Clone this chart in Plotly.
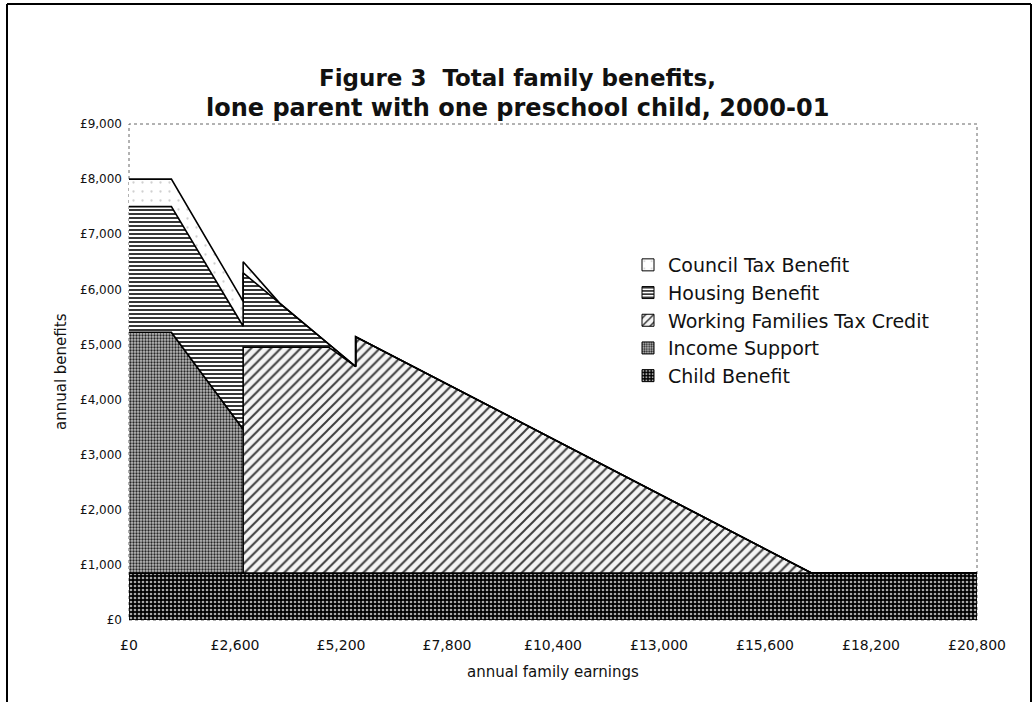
import numpy as np
import plotly.graph_objects as go

# Annual family earnings (GBP) at the points where the benefit schedule changes
earnings = [0, 1040, 2800, 2800, 3700, 4900, 5560, 5560, 16750, 20800]

# Annual amount of each benefit (GBP) at those earnings points
child_benefit = [850, 850, 850, 850, 850, 850, 850, 850, 850, 850]
income_support = [4370, 4370, 2610, 0, 0, 0, 0, 0, 0, 0]
working_families_tax_credit = [0, 0, 0, 4100, 4100, 4100, 3750, 4290, 0, 0]
housing_benefit = [2280, 2280, 1870, 1350, 796, 57, 0, 0, 0, 0]
council_tax_benefit = [500, 500, 450, 200, 0, 0, 0, 0, 0, 0]

series_names = ["Child Benefit", "Income Support", "Working Families Tax Credit",
                "Housing Benefit", "Council Tax Benefit"]
series_values = [child_benefit, income_support, working_families_tax_credit,
                 housing_benefit, council_tax_benefit]

x_tick_values = [0, 2600, 5200, 7800, 10400, 13000, 15600, 18200, 20800]
x_tick_labels = ["£0", "£2,600", "£5,200", "£7,800", "£10,400", "£13,000",
                 "£15,600", "£18,200", "£20,800"]
y_tick_values = [0, 1000, 2000, 3000, 4000, 5000, 6000, 7000, 8000, 9000]
y_tick_labels = ["£0", "£1,000", "£2,000", "£3,000", "£4,000", "£5,000",
                 "£6,000", "£7,000", "£8,000", "£9,000"]

FONT = "DejaVu Sans, Liberation Sans, Arial, sans-serif"
INK = "#111111"

# fill texture for each benefit, bottom of the stack first
textures = [
    dict(color="black",
         pattern=dict(shape=".", bgcolor="black", fgcolor="#a8a8a8",
                      size=4, solidity=0.35, fillmode="replace")),
    dict(color="#9c9c9c",
         pattern=dict(shape=".", bgcolor="#bcbcbc", fgcolor="#262626",
                      size=3, solidity=0.45, fillmode="replace")),
    dict(color="#e0e0e0",
         pattern=dict(shape="/", bgcolor="#f4f4f4", fgcolor="#3c3c3c",
                      size=7, solidity=0.28, fillmode="replace")),
    dict(color="#bdbdbd",
         pattern=dict(shape="-", bgcolor="white", fgcolor="#202020",
                      size=4, solidity=0.45, fillmode="replace")),
    dict(color="white",
         pattern=dict(shape=".", bgcolor="white", fgcolor="#d0d0d0",
                      size=9, solidity=0.05, fillmode="replace")),
]

tops = np.cumsum(np.array(series_values, dtype=float), axis=0)

fig = go.Figure()
for i, (name, top) in enumerate(zip(series_names, tops)):
    fig.add_trace(go.Scatter(
        x=earnings, y=top, name=name, mode="lines", showlegend=False,
        line=dict(color="black", width=1.6),
        fill="tozeroy" if i == 0 else "tonexty",
        fillcolor=textures[i]["color"], fillpattern=textures[i]["pattern"],
        legendgroup=name,
    ))

# square legend keys carrying the same textures
for i, name in enumerate(series_names):
    fig.add_trace(go.Bar(
        x=[None], y=[None], name=name, legendgroup=name, showlegend=True,
        marker=dict(color=textures[i]["color"], pattern=textures[i]["pattern"],
                    line=dict(color="black", width=1)),
    ))

# plot-area geometry in pixels
W, H = 1034, 702
L, R, T, B = 129, 977, 124, 620


def px(xp):
    return (xp - L) / (R - L)


def py(yp):
    return (B - yp) / (B - T)


fig.update_layout(
    width=W, height=H,
    margin=dict(l=L, r=W - R, t=T, b=H - B),
    paper_bgcolor="white", plot_bgcolor="white",
    font=dict(family=FONT, color=INK, size=12),
    showlegend=True,
    legend=dict(
        x=px(628), y=py(246), xanchor="left", yanchor="top",
        traceorder="reversed", font=dict(family=FONT, size=19, color=INK),
        bgcolor="rgba(0,0,0,0)", itemwidth=30, tracegroupgap=0,
    ),
    xaxis=dict(
        type="linear", range=[0, 20800],
        tickvals=x_tick_values, ticktext=x_tick_labels,
        showgrid=False, zeroline=False, showline=False, ticks="",
        ticklabelstandoff=15, tickfont=dict(size=14, color=INK),
    ),
    yaxis=dict(
        type="linear", range=[0, 9000],
        tickvals=y_tick_values, ticktext=y_tick_labels,
        showgrid=False, zeroline=False, showline=False, ticks="",
        ticklabelstandoff=6, tickfont=dict(size=12, color=INK),
    ),
    annotations=[
        dict(text="<b>Figure 3\u00a0\u00a0Total family benefits,</b>",
             xref="paper", yref="paper", x=px(517), y=py(78),
             xanchor="center", yanchor="middle", showarrow=False,
             font=dict(family=FONT, size=23, color=INK)),
        dict(text="<b>lone parent with one preschool child, 2000-01</b>",
             xref="paper", yref="paper", x=px(517), y=py(108),
             xanchor="center", yanchor="middle", showarrow=False,
             font=dict(family=FONT, size=24, color=INK)),
        dict(text="annual family earnings",
             xref="paper", yref="paper", x=px(553), y=py(672),
             xanchor="center", yanchor="middle", showarrow=False,
             font=dict(family=FONT, size=15, color=INK)),
        dict(text="annual benefits", textangle=-90,
             xref="paper", yref="paper", x=px(61), y=py(372),
             xanchor="center", yanchor="middle", showarrow=False,
             font=dict(family=FONT, size=15, color=INK)),
    ],
    shapes=[
        # dotted frame of the plot area
        dict(type="rect", xref="paper", yref="paper", x0=0, x1=1, y0=0, y1=1,
             line=dict(color="#666666", width=1, dash="dot"), layer="below"),
        # solid frame around the whole figure
        dict(type="line", xref="paper", yref="paper",
             x0=px(7), x1=px(7), y0=py(4), y1=py(710),
             line=dict(color="black", width=2)),
        dict(type="line", xref="paper", yref="paper",
             x0=px(7), x1=px(1031), y0=py(4), y1=py(4),
             line=dict(color="black", width=2)),
        dict(type="line", xref="paper", yref="paper",
             x0=px(1031), x1=px(1031), y0=py(4), y1=py(710),
             line=dict(color="black", width=2)),
    ],
)

fig.write_html("out.html")
